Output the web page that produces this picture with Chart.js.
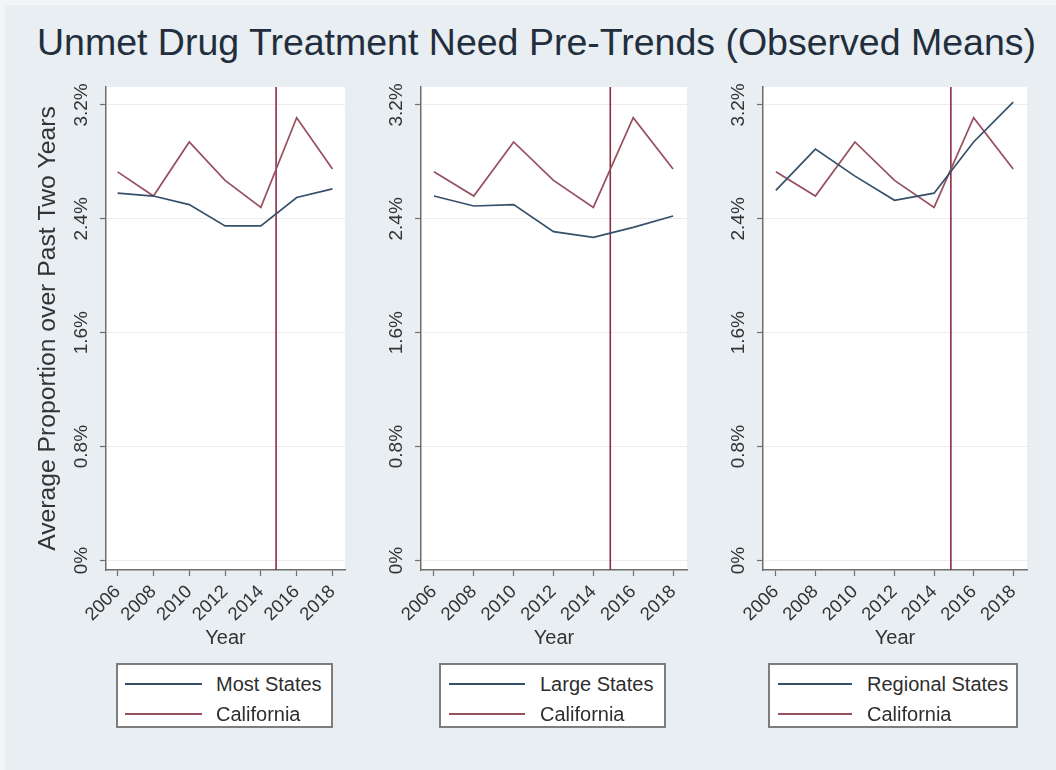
<!DOCTYPE html>
<html>
<head>
<meta charset="utf-8">
<title>Unmet Drug Treatment Need Pre-Trends</title>
<script src="https://cdn.jsdelivr.net/npm/chart.js@4.4.1/dist/chart.umd.min.js"></script>
<style>
  html, body { margin: 0; padding: 0; background: #e8eef1; }
  #page {
    position: relative; width: 1056px; height: 770px; overflow: hidden;
    background: #e8eef1;
    font-family: "Liberation Sans", Arial, Helvetica, sans-serif;
  }
  .edge { position: absolute; background: #f2f5f6; }
  #title {
    position: absolute; left: 37px; top: 18px; white-space: nowrap;
    font-size: 37.5px; line-height: 48px; color: #222e3d;
  }
  canvas { position: absolute; top: 0; }
  .legend {
    position: absolute; top: 663px; height: 61px; box-sizing: content-box;
    background: #fff; border: 2px solid #7d7d7d;
  }
  .legend .row { position: absolute; left: 0; right: 0; height: 30px; }
  .legend .swatch { position: absolute; top: 14px; height: 2px; }
  .legend .txt {
    position: absolute; top: 0; line-height: 30px; font-size: 20px; color: #2e2e2e; white-space: nowrap;
  }
</style>
</head>
<body>
<div id="page">
  <div class="edge" style="left:0;top:0;width:1056px;height:5px"></div>
  <div class="edge" style="left:0;top:0;width:5px;height:770px"></div>
  <div id="title">Unmet Drug Treatment Need Pre-Trends (Observed Means)</div>
  <canvas id="p1" width="380" height="770" style="left:0"></canvas>
  <canvas id="p2" width="340" height="770" style="left:380px"></canvas>
  <canvas id="p3" width="336" height="770" style="left:720px"></canvas>
</div>
<script>
// Survey years (two-year averages) and axis ticks
const years = [2006, 2008, 2010, 2012, 2014, 2016, 2018];
const yearTicks = [2006, 2008, 2010, 2012, 2014, 2016, 2018];
const percentTicks = [0, 0.8, 1.6, 2.4, 3.2];

// Observed mean unmet-need proportions, in percent
const californiaVals     = [2.73, 2.56, 2.94, 2.67, 2.48, 3.11, 2.75];
const mostStatesVals     = [2.58, 2.56, 2.50, 2.35, 2.35, 2.55, 2.61];
const largeStatesVals    = [2.56, 2.49, 2.50, 2.31, 2.27, 2.34, 2.42];
const regionalStatesVals = [2.60, 2.89, 2.70, 2.53, 2.58, 2.94, 3.22];

// Comparison groups, one per panel
const groupNames = ['Most States', 'Large States', 'Regional States'];
const groupVals = [mostStatesVals, largeStatesVals, regionalStatesVals];

// Policy reference line
const policyYear = 2014.85;

const yAxisTitle = 'Average Proportion over Past Two Years';
const xAxisTitle = 'Year';

const BLUE = '#36506a';
const RED = '#96505e';
const VLINE = '#8a2d45';
const AXIS = '#6e6e6e';
const TEXT = '#333333';

Chart.defaults.font.family = '"Liberation Sans", Arial, Helvetica, sans-serif';
Chart.defaults.color = TEXT;

const plotBackground = {
  id: 'plotBackground',
  beforeDraw(chart) {
    const { ctx, chartArea: a } = chart;
    ctx.save();
    ctx.fillStyle = '#ffffff';
    ctx.fillRect(a.left, a.top, a.right - a.left, a.bottom - a.top);
    ctx.restore();
  }
};

const referenceLine = {
  id: 'referenceLine',
  beforeDatasetsDraw(chart) {
    const { ctx, chartArea: a, scales } = chart;
    const x = scales.x.getPixelForValue(policyYear);
    ctx.save();
    ctx.strokeStyle = VLINE;
    ctx.lineWidth = 1.6;
    ctx.beginPath();
    ctx.moveTo(x, a.top);
    ctx.lineTo(x, a.bottom);
    ctx.stroke();
    ctx.restore();
  }
};

function toPoints(vals) {
  return years.map((yr, i) => ({ x: yr, y: vals[i] }));
}

function makePanel(id, idx, layout) {
  const canvas = document.getElementById(id);
  const chart = new Chart(canvas, {
    type: 'line',
    data: {
      datasets: [
        { label: groupNames[idx], data: toPoints(groupVals[idx]), borderColor: BLUE,
          borderWidth: 1.7, pointRadius: 0, tension: 0, fill: false },
        { label: 'California', data: toPoints(californiaVals), borderColor: RED,
          borderWidth: 1.7, pointRadius: 0, tension: 0, fill: false }
      ]
    },
    options: {
      responsive: false,
      animation: false,
      devicePixelRatio: 1,
      layout: { padding: { left: 0, right: layout.padRight, top: 87, bottom: 120 } },
      plugins: { legend: { display: false }, tooltip: { enabled: false } },
      scales: {
        x: {
          type: 'linear',
          min: 2005.35, max: 2018.7,
          afterBuildTicks: s => { s.ticks = yearTicks.map(v => ({ value: v })); },
          afterFit: s => { s.height = 80; },
          ticks: {
            autoSkip: false, minRotation: 45, maxRotation: 45, padding: 5,
            font: { size: 18.5 }, color: TEXT,
            callback: v => String(v)
          },
          grid: { drawOnChartArea: false, drawTicks: true, tickLength: 6, tickColor: AXIS, tickWidth: 1.2 },
          border: { display: true, color: AXIS, width: 1.5 },
          title: { display: true, text: xAxisTitle, font: { size: 20 }, color: TEXT, padding: { top: 0, bottom: 0 } }
        },
        y: {
          type: 'linear',
          min: -0.067, max: 3.326,
          afterBuildTicks: s => { s.ticks = percentTicks.map(v => ({ value: v })); },
          afterFit: s => { s.width = layout.yWidth; },
          ticks: {
            autoSkip: false, minRotation: 90, maxRotation: 90, crossAlign: 'center', padding: -3,
            font: { size: 19 }, color: TEXT,
            callback: v => (v === 0 ? '0' : v.toFixed(1)) + '%'
          },
          grid: { drawOnChartArea: true, color: '#ececec', lineWidth: 1, drawTicks: true,
                  tickLength: 6, tickColor: AXIS, tickWidth: 1.2 },
          border: { display: true, color: AXIS, width: 1.5 },
          title: layout.yTitle
            ? { display: true, text: yAxisTitle, font: { size: 24.7 }, color: TEXT, padding: { top: 33, bottom: 0 } }
            : { display: false }
        }
      }
    },
    plugins: [plotBackground, referenceLine]
  });
  return chart;
}

const panels = [
  makePanel('p1', 0, { yWidth: 106, padRight: 35, yTitle: true }),
  makePanel('p2', 1, { yWidth: 41, padRight: 33, yTitle: false }),
  makePanel('p3', 2, { yWidth: 43, padRight: 29, yTitle: false })
];

// Legend boxes below each panel, built from the chart datasets
const legendLayout = [
  { left: 116, width: 213, lineL: 7, lineW: 77, textL: 98 },
  { left: 439, width: 223, lineL: 8, lineW: 76, textL: 99 },
  { left: 768, width: 246, lineL: 8, lineW: 74, textL: 97 }
];
const page = document.getElementById('page');
panels.forEach((chart, i) => {
  const L = legendLayout[i];
  const box = document.createElement('div');
  box.className = 'legend';
  box.style.left = L.left + 'px';
  box.style.width = L.width + 'px';
  chart.data.datasets.forEach((ds, j) => {
    const row = document.createElement('div');
    row.className = 'row';
    row.style.top = (4 + j * 30) + 'px';
    const sw = document.createElement('div');
    sw.className = 'swatch';
    sw.style.left = L.lineL + 'px';
    sw.style.width = L.lineW + 'px';
    sw.style.background = ds.borderColor;
    const tx = document.createElement('div');
    tx.className = 'txt';
    tx.style.left = L.textL + 'px';
    tx.textContent = ds.label;
    row.appendChild(sw);
    row.appendChild(tx);
    box.appendChild(row);
  });
  page.appendChild(box);
});
</script>
</body>
</html>
